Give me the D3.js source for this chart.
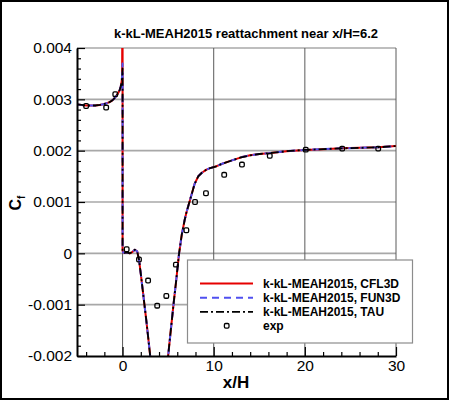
<!DOCTYPE html>
<html>
<head>
<meta charset="utf-8">
<script src="https://cdn.jsdelivr.net/npm/d3@7"></script>
<style>
    body { margin: 0; background: #fff; }
    svg { display: block; }
    text { font-family: "Liberation Sans", Arial, Helvetica, sans-serif; }
</style>
</head>
<body>
<div id="chart"></div>
<script>
"use strict";

// model curves share the same x stations (x/H)
var modelX = [-5, -4.5, -4, -3.5, -3, -2.5, -2, -1.5, -1.2, -1.0, -0.8, -0.6, -0.4, -0.3, -0.2, -0.1, -0.05, 0,
    0, 0.05, 0.2, 0.45, 0.8, 1.1, 1.35, 1.6, 1.8, 2.0, 2.2, 2.4, 2.6, 2.8, 3.0, 3.3, 3.6, 4.0, 4.4, 4.7,
    5.0, 5.3, 5.6, 5.9, 6.2, 6.5, 6.8, 7.0, 7.4, 7.9, 8.3, 8.7, 9.2, 9.6, 10.2, 11, 12, 13, 14, 15, 16,
    18, 20, 22, 24, 26, 28, 30];

var cfl3dCf = [0.00290, 0.00289, 0.00288, 0.00288, 0.00288, 0.00289, 0.00291, 0.00294, 0.00297, 0.00300, 0.00304, 0.00309, 0.00315, 0.00319, 0.00325, 0.00335, 0.00345, 0.00600,
    0.00005, 0.00002, 0.00001, 0.00002, 0.00000, 0.00003, 0.00007, 0.00004, -0.00012, -0.00040, -0.00070, -0.00100, -0.00130, -0.00162, -0.00195, -0.00245, -0.00285, -0.00310, -0.00300, -0.00255,
    -0.00200, -0.00148, -0.00098, -0.00050, 0.00000, 0.00037, 0.00064, 0.00079, 0.00104, 0.00135, 0.00150, 0.00157, 0.00163, 0.00166, 0.00169, 0.00175, 0.00181, 0.00187, 0.00191, 0.001935, 0.00195,
    0.00199, 0.002015, 0.00203, 0.002045, 0.002055, 0.002065, 0.00209];

var fun3dCf = [0.00290, 0.00289, 0.00288, 0.00288, 0.00288, 0.00289, 0.00291, 0.00294, 0.00297, 0.00300, 0.00304, 0.00309, 0.00315, 0.00319, 0.00325, 0.00335, 0.00345, 0.00370,
    0.00005, 0.00002, 0.00001, 0.00002, 0.00000, 0.00003, 0.00007, 0.00004, -0.00012, -0.00040, -0.00070, -0.00100, -0.00130, -0.00162, -0.00195, -0.00245, -0.00285, -0.00310, -0.00300, -0.00255,
    -0.00200, -0.00148, -0.00098, -0.00050, 0.00000, 0.00037, 0.00064, 0.00079, 0.00104, 0.00135, 0.00150, 0.00157, 0.00163, 0.00166, 0.00169, 0.00175, 0.00181, 0.00187, 0.00191, 0.001935, 0.00195,
    0.00199, 0.002015, 0.00203, 0.002045, 0.002055, 0.002065, 0.00209];

var tauCf = [0.00290, 0.00289, 0.00288, 0.00288, 0.00288, 0.00289, 0.00291, 0.00294, 0.00297, 0.00300, 0.00304, 0.00309, 0.00315, 0.00319, 0.00325, 0.00334, 0.00342, 0.00360,
    0.00005, 0.00002, 0.00001, 0.00002, 0.00000, 0.00003, 0.00007, 0.00004, -0.00012, -0.00040, -0.00070, -0.00100, -0.00130, -0.00162, -0.00195, -0.00245, -0.00285, -0.00310, -0.00300, -0.00255,
    -0.00200, -0.00148, -0.00098, -0.00050, 0.00000, 0.00037, 0.00064, 0.00079, 0.00104, 0.00135, 0.00150, 0.00157, 0.00163, 0.00166, 0.00169, 0.00175, 0.00181, 0.00187, 0.00191, 0.001935, 0.00195,
    0.00199, 0.002015, 0.00203, 0.002045, 0.002055, 0.002065, 0.00209];

var expX = [-4.0, -1.8, -0.8, 0.45, 1.8, 2.8, 3.8, 4.8, 5.85, 7.0, 7.95, 9.15, 11.15, 13.1, 16.15, 20.1, 24.1, 28.05];
var expCf = [0.00287, 0.00284, 0.00310, 0.00008, -0.00012, -0.00053, -0.00102, -0.00083, -0.00022, 0.00045, 0.00100, 0.00117, 0.00153, 0.00173, 0.00190, 0.00202, 0.00204, 0.00204];

var seriesNames = ["k-kL-MEAH2015, CFL3D", "k-kL-MEAH2015, FUN3D", "k-kL-MEAH2015, TAU"];
var xMajorTicks = [0, 10, 20, 30];
var xMinorTicks = [-4, -2, 2, 4, 6, 8, 12, 14, 16, 18, 22, 24, 26, 28];
var yMajorTicks = [-0.002, -0.001, 0, 0.001, 0.002, 0.003, 0.004];
var yMinorTicks = [-0.0018, -0.0016, -0.0014, -0.0012, -0.0008, -0.0006, -0.0004, -0.0002,
    0.0002, 0.0004, 0.0006, 0.0008, 0.0012, 0.0014, 0.0016, 0.0018,
    0.0022, 0.0024, 0.0026, 0.0028, 0.0032, 0.0034, 0.0036, 0.0038];

var width = 450, height = 401;
var plot = { left: 77, right: 396, top: 48, bottom: 356 };

var svg = d3.select("#chart").append("svg")
    .attr("width", width)
    .attr("height", height);

// outer frame
svg.append("rect")
    .attr("x", 1).attr("y", 1)
    .attr("width", 447).attr("height", 398)
    .attr("fill", "#fff")
    .attr("stroke", "#000")
    .attr("stroke-width", 2);

var x = d3.scaleLinear().domain([-5, 30]).range([plot.left, plot.right]);
var y = d3.scaleLinear().domain([-0.002, 0.004]).range([plot.bottom, plot.top]);

svg.append("defs").append("clipPath").attr("id", "plotClip")
    .append("rect")
    .attr("x", plot.left).attr("y", plot.top)
    .attr("width", plot.right - plot.left)
    .attr("height", plot.bottom - plot.top);

// grid
var grid = svg.append("g").attr("class", "grid");
grid.selectAll("line.hgrid")
    .data(yMajorTicks.filter(function (d) { return d > -0.002; }))
    .enter().append("line")
    .attr("class", "hgrid")
    .attr("x1", plot.left).attr("x2", plot.right)
    .attr("y1", function (d) { return y(d); })
    .attr("y2", function (d) { return y(d); })
    .attr("stroke", "#a8a8a8")
    .attr("stroke-width", 1.6);

grid.selectAll("line.vgrid")
    .data(xMajorTicks)
    .enter().append("line")
    .attr("class", "vgrid")
    .attr("x1", function (d) { return x(d); })
    .attr("x2", function (d) { return x(d); })
    .attr("y1", plot.top).attr("y2", plot.bottom)
    .attr("stroke", "#5a5a5a")
    .attr("stroke-width", 1);

// curves
var line = d3.line()
    .x(function (d) { return x(d[0]); })
    .y(function (d) { return y(d[1]); });

var styles = [
    { color: "#e60000", width: 2, dash: null },
    { color: "#5050f0", width: 2, dash: "7,5" },
    { color: "#000", width: 1.8, dash: "8,3,2,3" }
];
var models = [cfl3dCf, fun3dCf, tauCf];

var curves = svg.append("g").attr("clip-path", "url(#plotClip)");
models.forEach(function (cf, i) {
    curves.append("path")
        .datum(d3.zip(modelX, cf))
        .attr("fill", "none")
        .attr("stroke", styles[i].color)
        .attr("stroke-width", styles[i].width)
        .attr("stroke-dasharray", styles[i].dash)
        .attr("stroke-linejoin", "round")
        .attr("d", line);
});

var mk = 4.6;
curves.selectAll("rect.exp")
    .data(d3.zip(expX, expCf))
    .enter().append("rect")
    .attr("class", "exp")
    .attr("x", function (d) { return x(d[0]) - mk / 2; })
    .attr("y", function (d) { return y(d[1]) - mk / 2; })
    .attr("width", mk).attr("height", mk)
    .attr("rx", 1.3)
    .attr("fill", "none")
    .attr("stroke", "#000")
    .attr("stroke-width", 1.3);

// axes
var fmt = function (d) {
    if (d === 0) return "0";
    return (d < 0 ? "-" : "") + d3.format(".3f")(Math.abs(d));
};

var xAxis = svg.append("g")
    .attr("transform", "translate(0," + plot.bottom + ")")
    .call(d3.axisBottom(x).tickValues(xMajorTicks).tickSize(-9).tickPadding(4).tickSizeOuter(0));
svg.append("g")
    .attr("transform", "translate(0," + plot.bottom + ")")
    .call(d3.axisBottom(x).tickValues(xMinorTicks).tickSize(-4).tickFormat("").tickSizeOuter(0))
    .select(".domain").remove();

var yAxis = svg.append("g")
    .attr("transform", "translate(" + plot.left + ",0)")
    .call(d3.axisLeft(y).tickValues(yMajorTicks).tickSize(-8).tickPadding(5).tickFormat(fmt).tickSizeOuter(0));
svg.append("g")
    .attr("transform", "translate(" + plot.left + ",0)")
    .call(d3.axisLeft(y).tickValues(yMinorTicks).tickSize(-4).tickFormat("").tickSizeOuter(0))
    .select(".domain").remove();

svg.selectAll(".domain").attr("stroke", "#000").attr("stroke-width", 2);
svg.selectAll(".tick line").attr("stroke", "#000").attr("stroke-width", 1.2);
xAxis.selectAll("text").attr("font-size", 15.5).attr("fill", "#000")
    .attr("font-family", "Liberation Sans, Arial, sans-serif");
yAxis.selectAll("text").attr("font-size", 15.5).attr("fill", "#000")
    .attr("font-family", "Liberation Sans, Arial, sans-serif");

// title and axis labels
svg.append("text")
    .attr("x", 246).attr("y", 38)
    .attr("text-anchor", "middle")
    .attr("font-size", 13)
    .attr("font-weight", "bold")
    .text("k-kL-MEAH2015 reattachment near x/H=6.2");

svg.append("text")
    .attr("x", 236).attr("y", 388)
    .attr("text-anchor", "middle")
    .attr("font-size", 17)
    .attr("font-weight", "bold")
    .text("x/H");

var yLabel = svg.append("text")
    .attr("transform", "translate(21,203) rotate(-90)")
    .attr("text-anchor", "middle")
    .attr("font-weight", "bold");
yLabel.append("tspan").attr("font-size", 16).text("C");
yLabel.append("tspan").attr("font-size", 10).attr("dy", 4).text("f");

// legend
var legend = svg.append("g").attr("class", "legend");
legend.append("rect")
    .attr("x", 187.5).attr("y", 260)
    .attr("width", 225).attr("height", 83)
    .attr("fill", "#fff")
    .attr("stroke", "#8c8c8c")
    .attr("stroke-width", 1.2);

var rowY = [283.5, 297.7, 311.8, 325.8];
seriesNames.forEach(function (name, i) {
    legend.append("line")
        .attr("x1", 200).attr("x2", 253)
        .attr("y1", rowY[i]).attr("y2", rowY[i])
        .attr("stroke", styles[i].color)
        .attr("stroke-width", styles[i].width)
        .attr("stroke-dasharray", styles[i].dash);
    legend.append("text")
        .attr("x", 263).attr("y", rowY[i] + 4.3)
        .attr("font-size", 12)
        .attr("font-weight", "bold")
        .text(name);
});
legend.append("rect")
    .attr("x", 226.7 - mk / 2).attr("y", rowY[3] - mk / 2)
    .attr("width", mk).attr("height", mk)
    .attr("rx", 1.3)
    .attr("fill", "none")
    .attr("stroke", "#000")
    .attr("stroke-width", 1.3);
legend.append("text")
    .attr("x", 263).attr("y", rowY[3] + 4.3)
    .attr("font-size", 12)
    .attr("font-weight", "bold")
    .text("exp");
</script>
</body>
</html>
